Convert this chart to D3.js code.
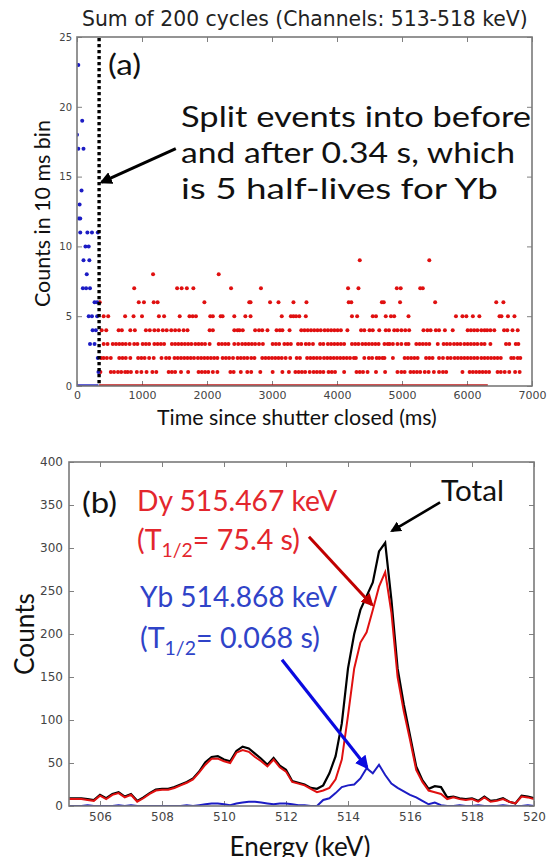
<!DOCTYPE html>
<meta charset="utf-8">
<script src="https://cdn.jsdelivr.net/npm/d3@7"></script>
<style>
  body { margin: 0; background: #fff; }
</style>
<div id="chart"></div>
<script>
// ---------- panel (a): counts in 10 ms bins ----------
// blue: events before the 0.34 s split (time in ms, counts)
const blueTimes  = [20, 80, 0, 20, 100, 70, 40, 30, 50, 50, 160, 230, 320, 130, 180, 100, 190, 150, 90, 140, 200, 270, 310, 180, 230, 310, 240, 290, 200, 270, 320, 330];
const blueCounts = [23, 19, 18, 17, 17, 14, 13, 12, 12, 11, 11, 11, 11, 10, 10, 9, 9, 8, 7, 7, 7, 6, 6, 5, 5, 5, 4, 4, 3, 3, 2, 1];

// red: events after the split, listed as bin times (ms) for each count level
const red9 = [4350, 5420];
const red8 = [1170, 2180];
const red7 = [880, 1540, 1610, 1690, 1790, 2370, 2830, 4170, 4330, 4920, 4980, 5280, 5320];
const red6 = [350, 950, 1030, 1180, 1240, 1960, 2650, 2670, 2970, 3100, 3330, 3530, 4180, 4220, 4690, 4720, 4970, 5510, 6450, 6560];
const red5 = [410, 480, 740, 870, 1000, 1260, 1340, 1580, 1730, 1780, 1830, 2050, 2090, 2210, 2240, 2420, 2590, 2670, 3150, 3290, 3330, 3370, 3420, 3520,
              4230, 4310, 4550, 4600, 4750, 4830, 4880, 5100, 5830, 5930, 5990, 6090, 6190, 6500, 6530, 6630, 6730];
const red4 = [380, 450, 640, 690, 820, 890, 1060, 1120, 1190, 1250, 1320, 1380, 1450, 1510, 1570, 1640, 1700, 2040, 2090, 2420, 2470,
              2500, 2550, 2740, 2800, 2850, 2930, 3070, 3120, 3160, 3270, 3450, 3500, 3550, 3600, 3650, 3700, 3750, 3810, 3860, 3910, 3960, 4010, 4060,
              4160, 4370, 4420, 4500, 4550, 4650, 4750, 4800, 4880, 4930, 4990, 5050, 5110, 5330, 5390, 5440, 5520, 5570, 5660, 5780,
              6010, 6060, 6110, 6160, 6220, 6270, 6310, 6360, 6420, 6570, 6620, 6700, 6780];
const red3 = [410, 470, 550, 600, 650, 700, 750, 810, 880, 930, 1010, 1060, 1110, 1190, 1240, 1290, 1340, 1460, 1510, 1560, 1610, 1660, 1710, 1760,
              1820, 1870, 1920, 1970, 2040, 2180, 2230, 2280, 2330, 2420, 2480, 2540, 2590, 2640, 2690, 2740, 2800, 2860, 3010, 3060, 3110, 3190,
              3240, 3290, 3400, 3450, 3520, 3570, 3630, 3740, 3790, 3860, 3910, 3960, 4010, 4060, 4110, 4230, 4280, 4330, 4390, 4440, 4490, 4540,
              4590, 4640, 4730, 4780, 4810, 4860, 4930, 4990, 5060, 5100, 5220, 5270, 5320, 5370, 5420, 5550, 5640, 5690, 5740, 5800, 5850, 5900,
              5960, 6010, 6060, 6110, 6160, 6220, 6270, 6360, 6600, 6650, 6750, 6790];
const red2 = [370, 410, 460, 520, 650, 700, 750, 820, 940, 990, 1040, 1110, 1180, 1300, 1370, 1420, 1500, 1550, 1600, 1650, 1700, 1750, 1800,
              1860, 1910, 1960, 2010, 2060, 2110, 2160, 2240, 2290, 2340, 2400, 2470, 2520, 2570, 2620, 2680, 2730, 2850, 2900, 2950, 3000, 3050,
              3100, 3150, 3210, 3280, 3380, 3430, 3540, 3590, 3640, 3690, 3740, 3800, 3850, 3900, 3950, 4000, 4050, 4100, 4150, 4200, 4260, 4290,
              4420, 4490, 4540, 4610, 4650, 4700, 4730, 4860, 5040, 5090, 5140, 5190, 5240, 5370, 5420, 5470, 5570, 5630, 5700, 5750, 5810, 5860,
              5910, 5960, 6010, 6060, 6110, 6160, 6220, 6270, 6320, 6370, 6420, 6470, 6520, 6680, 6720, 6780, 6820];
const red1 = [360, 520, 570, 630, 680, 740, 780, 830, 920, 990, 1070, 1160, 1220, 1410, 1460, 1510, 1600, 1710, 1870, 1920, 1970, 2020, 2090,
              2160, 2360, 2410, 2520, 2620, 2680, 2820, 3010, 3160, 3260, 3360, 3410, 3460, 3510, 3580, 3640, 3690, 3740, 3790, 3870, 3920, 3970,
              4110, 4300, 4350, 4400, 4470, 4600, 4740, 4930, 4990, 5040, 5130, 5180, 5230, 5280, 5350, 5410, 5490, 5570, 5630, 5680, 5930,
              6040, 6090, 6140, 6190, 6240, 6290, 6340, 6470, 6520, 6580, 6650, 6740, 6810];
// zero-count bins run together into a line along the bottom
const blueZeroSpan = [0, 330];
const redZeroSpan = [340, 6320];
const splitTime = 340;

const timeTicks = [0, 1000, 2000, 3000, 4000, 5000, 6000, 7000];
const binTicks = [0, 5, 10, 15, 20, 25];

// ---------- panel (b): spectra ----------
const energy = [505.0, 505.2, 505.4, 505.6, 505.8, 506.0, 506.2, 506.4, 506.6, 506.8,
                507.0, 507.2, 507.4, 507.6, 507.8, 508.0, 508.2, 508.4, 508.6, 508.8,
                509.0, 509.2, 509.4, 509.6, 509.8, 510.0, 510.2, 510.4, 510.6, 510.8,
                511.0, 511.2, 511.4, 511.6, 511.8, 512.0, 512.2, 512.4, 512.6, 512.8,
                513.0, 513.2, 513.4, 513.6, 513.8, 514.0, 514.2, 514.4, 514.6, 514.8,
                515.0, 515.2, 515.4, 515.6, 515.8, 516.0, 516.2, 516.4, 516.6, 516.8,
                517.0, 517.2, 517.4, 517.6, 517.8, 518.0, 518.2, 518.4, 518.6, 518.8,
                519.0, 519.2, 519.4, 519.6, 519.8, 520.0];
const totalCounts = [9, 9, 9, 8, 7, 13, 9, 14, 16, 11,
                     14, 6, 10, 15, 19, 20, 20, 22, 25, 28,
                     32, 40, 51, 57, 58, 54, 52, 64, 69, 67,
                     61, 55, 48, 56, 47, 42, 29, 27, 25, 21,
                     20, 24, 38, 58, 96, 160, 200, 228, 244, 260,
                     296, 306, 240, 160, 118, 82, 46, 30, 20, 23,
                     22, 10, 11, 9, 8, 9, 6, 11, 6, 7,
                     9, 5, 3, 12, 11, 9];
const dyCounts = [8, 8, 8, 7, 6, 12, 8, 13, 15, 10,
                  13, 5, 9, 14, 18, 19, 19, 21, 24, 27,
                  31, 39, 48, 55, 55, 52, 50, 62, 65, 63,
                  57, 52, 46, 54, 45, 40, 28, 26, 24, 20,
                  16, 18, 21, 31, 54, 105, 160, 190, 202, 228,
                  255, 272, 225, 150, 110, 77, 42, 28, 18, 16,
                  14, 8, 10, 8, 7, 8, 5, 10, 5, 6,
                  8, 5, 3, 11, 10, 8];
const ybCounts = [0, 0, 0, 1, 0, 0, 0, 0, 1, 0,
                  1, 0, 0, 0, 0, 0, 0, 0, 0, 1,
                  0, 1, 2, 3, 3, 2, 1, 3, 4, 5,
                  5, 4, 3, 2, 3, 3, 2, 1, 1, 0,
                  0, 7, 9, 15, 22, 24, 25, 32, 44, 38,
                  48, 36, 26, 21, 17, 13, 10, 6, 2, 4,
                  1, 0, 0, 1, 0, 0, 1, 0, 0, 0,
                  1, 0, 0, 0, 1, 0];
const energyTicks = [506, 508, 510, 512, 514, 516, 518, 520];
const countTicks = [0, 50, 100, 150, 200, 250, 300, 350, 400];

// ---------- drawing ----------
const W = 548, H = 857;
const RED = "#e01010", BLUE = "#1c1cc4", TXT_RED = "#e3262d", TXT_BLUE = "#2f43c8";
const svg = d3.select("#chart").append("svg").attr("width", W).attr("height", H);

const defs = svg.append("defs");
["#000", "#c00000", "#0a0ae0"].forEach((c, i) => {
  defs.append("marker").attr("id", "head" + i)
    .attr("viewBox", "0 0 10 10").attr("refX", 8).attr("refY", 5)
    .attr("markerWidth", 4.2).attr("markerHeight", 4.2).attr("orient", "auto")
    .append("path").attr("d", "M0,0L10,5L0,10z").attr("fill", c);
});

// scale a text's font size so it covers the width it has in the picture
function fit(sel, width) {
  const fs = +sel.attr("font-size");
  sel.attr("font-size", fs * width / sel.node().getComputedTextLength());
  return sel;
}
// keep the font size (glyph height) and stretch the text to its width in the picture
function stretch(sel, width) {
  return sel.attr("textLength", width).attr("lengthAdjust", "spacingAndGlyphs");
}

function frame(g, x, y, xTicks, yTicks, fs, xFs, xPad, yPad) {
  const [l, r] = x.range(), [b, t] = y.range();
  const style = (a, size) => a.call(s => s.select(".domain").remove())
    .attr("font-family", "DejaVu Sans").attr("font-size", size)
    .call(s => s.selectAll("line").attr("stroke", "#808080"))
    .call(s => s.selectAll("text").attr("fill", "#444"));
  g.append("g").attr("transform", `translate(0,${b})`)
    .call(d3.axisBottom(x).tickValues(xTicks).tickFormat(d3.format("d"))
      .tickSizeInner(-5).tickSizeOuter(0).tickPadding(xPad)).call(style, xFs);
  g.append("g").attr("transform", `translate(0,${t})`)
    .call(d3.axisTop(x).tickValues(xTicks).tickSizeInner(-5).tickSizeOuter(0).tickFormat(() => "")).call(style, fs);
  g.append("g").attr("transform", `translate(${l},0)`)
    .call(d3.axisLeft(y).tickValues(yTicks).tickSizeInner(-5).tickSizeOuter(0).tickPadding(yPad)).call(style, fs);
  g.append("g").attr("transform", `translate(${r},0)`)
    .call(d3.axisRight(y).tickValues(yTicks).tickSizeInner(-5).tickSizeOuter(0).tickFormat(() => "")).call(style, fs);
}

function border(g, x, y) {
  const [l, r] = x.range(), [b, t] = y.range();
  g.append("rect").attr("x", l).attr("y", t).attr("width", r - l).attr("height", b - t)
    .attr("fill", "none").attr("stroke", "#7a7a7a").attr("stroke-width", 1.6);
}

function arrow(g, x, y, from, to, color, i, w) {
  g.append("line")
    .attr("x1", x(from[0])).attr("y1", y(from[1]))
    .attr("x2", x(to[0])).attr("y2", y(to[1]))
    .attr("stroke", color).attr("stroke-width", w)
    .attr("marker-end", `url(#head${i})`);
}

function label(g, x, y, s, fs, color, family) {
  return g.append("text").attr("x", x).attr("y", y)
    .attr("font-family", family || "Lato").attr("font-size", fs).attr("fill", color || "#111").text(s);
}

// ----- panel (a)
const xA = d3.scaleLinear().domain([0, 7000]).range([77, 532]);
const yA = d3.scaleLinear().domain([0, 25]).range([386, 37]);
const gA = svg.append("g");
defs.append("clipPath").attr("id", "clipA").append("rect")
  .attr("x", 77).attr("y", 37).attr("width", 455).attr("height", 349);

frame(gA, xA, yA, timeTicks, binTicks, 10, 11, 5, 5);

const redPts = [];
[red1, red2, red3, red4, red5, red6, red7, red8, red9].forEach((arr, i) =>
  arr.forEach(t => redPts.push([t, i + 1])));
const bluePts = blueTimes.map((t, i) => [t, blueCounts[i]]);

const plotA = gA.append("g").attr("clip-path", "url(#clipA)");
plotA.append("line").attr("x1", xA(redZeroSpan[0])).attr("x2", xA(redZeroSpan[1]))
  .attr("y1", yA(0)).attr("y2", yA(0)).attr("stroke", "#c01818").attr("stroke-width", 3.4);
plotA.append("line").attr("x1", xA(blueZeroSpan[0])).attr("x2", xA(blueZeroSpan[1]))
  .attr("y1", yA(0)).attr("y2", yA(0)).attr("stroke", BLUE).attr("stroke-width", 3.4);
plotA.selectAll("circle.red").data(redPts).join("circle").attr("class", "red")
  .attr("cx", d => xA(d[0])).attr("cy", d => yA(d[1])).attr("r", 2).attr("fill", RED);
plotA.selectAll("circle.blue").data(bluePts).join("circle").attr("class", "blue")
  .attr("cx", d => xA(d[0])).attr("cy", d => yA(d[1])).attr("r", 2).attr("fill", BLUE);
border(gA, xA, yA);

gA.append("line").attr("x1", xA(splitTime)).attr("x2", xA(splitTime))
  .attr("y1", yA(25) + 1).attr("y2", yA(0))
  .attr("stroke", "#000").attr("stroke-width", 3.4).attr("stroke-dasharray", "3.3,2.7");

fit(label(gA, 82, 26, "Sum of 200 cycles (Channels: 513-518 keV)", 18, "#222", "DejaVu Sans"), 446);
fit(label(gA, 157, 425, "Time since shutter closed (ms)", 20), 280);
fit(gA.append("text").attr("transform", "translate(50,307) rotate(-90)")
  .attr("font-family", "Lato").attr("font-size", 20).attr("fill", "#111")
  .text("Counts in 10 ms bin"), 187);
stretch(label(gA, 108, 75, "(a)", 29), 33);
stretch(label(gA, 181, 127, "Split events into before", 29), 350);
stretch(label(gA, 181, 163, "and after 0.34 s, which", 29), 334);
stretch(label(gA, 181, 199, "is 5 half-lives for Yb", 29), 317);
arrow(gA, xA, yA, [1520, 17.0], [380, 14.6], "#000", 0, 3);

// ----- panel (b)
const xB = d3.scaleLinear().domain([505, 520]).range([69, 534]);
const yB = d3.scaleLinear().domain([0, 400]).range([806, 462]);
const gB = svg.append("g");
defs.append("clipPath").attr("id", "clipB").append("rect")
  .attr("x", 69).attr("y", 462).attr("width", 465).attr("height", 344);

frame(gB, xB, yB, energyTicks, countTicks, 12, 12, 6, 6);

const line = d3.line().x((d, i) => xB(energy[i])).y(d => yB(d));
const plotB = gB.append("g").attr("clip-path", "url(#clipB)");
plotB.append("path").datum(totalCounts).attr("d", line)
  .attr("fill", "none").attr("stroke", "#000").attr("stroke-width", 2.2);
plotB.append("path").datum(dyCounts).attr("d", line)
  .attr("fill", "none").attr("stroke", RED).attr("stroke-width", 2);
plotB.append("path").datum(ybCounts).attr("d", line)
  .attr("fill", "none").attr("stroke", BLUE).attr("stroke-width", 2);
border(gB, xB, yB);

fit(gB.append("text").attr("transform", "translate(34,675) rotate(-90)")
  .attr("font-family", "Lato").attr("font-size", 29).attr("fill", "#111").text("Counts"), 82);
gB.append("text").attr("x", 300).attr("y", 856).attr("text-anchor", "middle")
  .attr("font-family", "Lato").attr("font-size", 26).attr("fill", "#111").text("Energy (keV)");
stretch(label(gB, 82, 513, "(b)", 28), 35);
stretch(label(gB, 441, 501, "Total", 29), 63);

function halfLife(x, y, color, value) {
  const t = label(gB, x, y, null, 28, color);
  t.append("tspan").text("(T");
  t.append("tspan").attr("font-size", 19).attr("dy", 7).text("1/2");
  t.append("tspan").attr("dy", -7).text("= " + value + ")");
  return t;
}
stretch(label(gB, 137, 511, "Dy 515.467 keV", 28, TXT_RED), 200);
stretch(halfLife(137, 550, TXT_RED, "75.4 s"), 163);
stretch(label(gB, 140, 607, "Yb 514.868 keV", 28, TXT_BLUE), 197);
stretch(halfLife(140, 648, TXT_BLUE, "0.068 s"), 180);

arrow(gB, xB, yB, [516.97, 353], [515.42, 320], "#000", 0, 2.6);
arrow(gB, xB, yB, [512.74, 313], [514.77, 234], "#c00000", 1, 3);
arrow(gB, xB, yB, [511.87, 170], [514.61, 45], "#0a0ae0", 2, 3.2);
</script>
